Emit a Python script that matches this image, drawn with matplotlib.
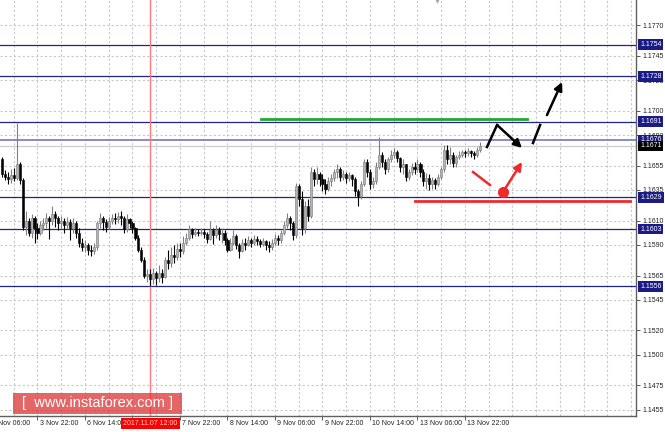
import numpy as np
import matplotlib
matplotlib.use("Agg")
import matplotlib.pyplot as plt
from matplotlib.patches import Rectangle

plt.rcParams['font.family'] = ['Liberation Sans', 'DejaVu Sans']

# ---- data: EURUSD H1 bars, index 0 = 3 Nov 06:00 ----
first_bar = 4
first_open = 1.1660
closes = [1.1648, 1.1646, 1.1644, 1.1647, 1.1645, 1.1656, 1.1643, 1.1605, 1.1610, 1.1600,
          1.1612, 1.1604, 1.1600, 1.1606, 1.1608, 1.1612, 1.1610, 1.1615, 1.1612, 1.1608,
          1.1610, 1.1606, 1.1609, 1.1604, 1.1608, 1.1600, 1.1592, 1.1588, 1.1590, 1.1586,
          1.1585, 1.1588, 1.1608, 1.1612, 1.1609, 1.1605, 1.1610, 1.1612, 1.1611, 1.1614,
          1.1612, 1.1603, 1.1611, 1.1608, 1.1604, 1.1596, 1.1586, 1.1578, 1.1565, 1.1566,
          1.1562, 1.1567, 1.1563, 1.1567, 1.1564, 1.1578, 1.1575, 1.1582, 1.1580, 1.1587,
          1.1585, 1.1592, 1.1596, 1.1603, 1.1599, 1.1601, 1.1600, 1.1601, 1.1599, 1.1595,
          1.1602, 1.1598, 1.1602, 1.1599, 1.1600, 1.1594, 1.1586, 1.1592, 1.1597, 1.1590,
          1.1585, 1.1592, 1.1590, 1.1594, 1.1592, 1.1595, 1.1593, 1.1591, 1.1593, 1.1590,
          1.1588, 1.1592, 1.1596, 1.1594, 1.1600, 1.1606, 1.1612, 1.1608, 1.1598, 1.1638,
          1.1628, 1.1604, 1.1622, 1.1614, 1.1650, 1.1644, 1.1648, 1.1644, 1.1640, 1.1636,
          1.1642, 1.1645, 1.1650, 1.1652, 1.1646, 1.1648, 1.1645, 1.1647, 1.1644, 1.1634,
          1.1630, 1.1640, 1.1658, 1.1650, 1.1640, 1.1642, 1.1654, 1.1664, 1.1658, 1.1652,
          1.1660, 1.1664, 1.1666, 1.1661, 1.1654, 1.1656, 1.1646, 1.1650, 1.1654, 1.1652,
          1.1656, 1.1650, 1.1642, 1.1645, 1.1640, 1.1643, 1.1640, 1.1646, 1.1652, 1.1668,
          1.1660, 1.1664, 1.1657, 1.1662, 1.1664, 1.1666, 1.1665, 1.1667, 1.1665, 1.1664,
          1.1668, 1.1671]
highs = [1.1662, 1.1651, 1.1650, 1.1652, 1.1653, 1.1690, 1.1658, 1.1645, 1.1618, 1.1612,
         1.1615, 1.1614, 1.1608, 1.1610, 1.1612, 1.1616, 1.1614, 1.1622, 1.1618, 1.1614,
         1.1614, 1.1612, 1.1613, 1.1611, 1.1612, 1.1610, 1.1604, 1.1596, 1.1594, 1.1592,
         1.1590, 1.1592, 1.1610, 1.1616, 1.1614, 1.1611, 1.1613, 1.1615, 1.1616, 1.1617,
         1.1618, 1.1614, 1.1615, 1.1612, 1.1610, 1.1605, 1.1598, 1.1588, 1.1580, 1.1570,
         1.1570, 1.1571, 1.1569, 1.1574, 1.1570, 1.1580, 1.1586, 1.1588, 1.1590, 1.1592,
         1.1592, 1.1597, 1.1600, 1.1606, 1.1604, 1.1604, 1.1603, 1.1604, 1.1603, 1.1601,
         1.1610, 1.1604, 1.1606, 1.1605, 1.1604, 1.1602, 1.1596, 1.1596, 1.1602, 1.1599,
         1.1592, 1.1595, 1.1596, 1.1597, 1.1596, 1.1598, 1.1597, 1.1595, 1.1596, 1.1594,
         1.1593, 1.1595, 1.1599, 1.1598, 1.1602, 1.1610, 1.1616, 1.1614, 1.1610, 1.1641,
         1.1640, 1.1634, 1.1626, 1.1628, 1.1654, 1.1652, 1.1654, 1.1650, 1.1648, 1.1644,
         1.1646, 1.1648, 1.1652, 1.1656, 1.1654, 1.1651, 1.1650, 1.1650, 1.1648, 1.1646,
         1.1636, 1.1642, 1.1660, 1.1660, 1.1652, 1.1646, 1.1658, 1.1678, 1.1666, 1.1660,
         1.1662, 1.1668, 1.1669, 1.1668, 1.1662, 1.1660, 1.1656, 1.1652, 1.1657, 1.1658,
         1.1660, 1.1658, 1.1652, 1.1649, 1.1648, 1.1646, 1.1645, 1.1648, 1.1654, 1.1672,
         1.1672, 1.1670, 1.1666, 1.1664, 1.1667, 1.1668, 1.1668, 1.1669, 1.1668, 1.1667,
         1.1670, 1.1674]
lows = [1.1646, 1.1643, 1.1640, 1.1641, 1.1642, 1.1643, 1.1640, 1.1602, 1.1598, 1.1597,
        1.1596, 1.1592, 1.1595, 1.1598, 1.1602, 1.1604, 1.1595, 1.1606, 1.1605, 1.1602,
        1.1604, 1.1600, 1.1603, 1.1594, 1.1600, 1.1596, 1.1588, 1.1585, 1.1584, 1.1582,
        1.1581, 1.1583, 1.1586, 1.1604, 1.1602, 1.1601, 1.1603, 1.1607, 1.1607, 1.1608,
        1.1606, 1.1600, 1.1601, 1.1604, 1.1600, 1.1594, 1.1584, 1.1576, 1.1563, 1.1560,
        1.1556, 1.1558, 1.1557, 1.1560, 1.1559, 1.1563, 1.1570, 1.1572, 1.1575, 1.1578,
        1.1580, 1.1583, 1.1590, 1.1594, 1.1596, 1.1597, 1.1597, 1.1598, 1.1596, 1.1592,
        1.1594, 1.1591, 1.1596, 1.1594, 1.1592, 1.1590, 1.1584, 1.1585, 1.1590, 1.1587,
        1.1579, 1.1584, 1.1586, 1.1589, 1.1588, 1.1590, 1.1590, 1.1588, 1.1589, 1.1586,
        1.1584, 1.1586, 1.1590, 1.1590, 1.1592, 1.1598, 1.1604, 1.1602, 1.1594, 1.1596,
        1.1622, 1.1598, 1.1600, 1.1610, 1.1612, 1.1638, 1.1640, 1.1638, 1.1634, 1.1632,
        1.1634, 1.1638, 1.1642, 1.1645, 1.1642, 1.1643, 1.1641, 1.1642, 1.1638, 1.1630,
        1.1622, 1.1628, 1.1638, 1.1646, 1.1636, 1.1637, 1.1640, 1.1652, 1.1654, 1.1648,
        1.1650, 1.1658, 1.1661, 1.1658, 1.1650, 1.1648, 1.1642, 1.1643, 1.1647, 1.1648,
        1.1650, 1.1646, 1.1638, 1.1636, 1.1635, 1.1636, 1.1636, 1.1638, 1.1644, 1.1650,
        1.1656, 1.1656, 1.1654, 1.1654, 1.1660, 1.1662, 1.1662, 1.1663, 1.1662, 1.1660,
        1.1662, 1.1666]

y_ticks = [1.1770, 1.1745, 1.1725, 1.1700, 1.1680, 1.1655, 1.1635, 1.1610,
           1.1590, 1.1565, 1.1545, 1.1520, 1.1500, 1.1475, 1.1455]
levels = [1.1754, 1.1728, 1.1691, 1.1603, 1.1556, 1.1629]
level_minor = 1.1676
current_price = 1.1671

x_label_bars = [0, 16, 32, 48, 64, 80, 96, 112, 128, 144, 160]
x_labels = ["3 Nov 06:00", "3 Nov 22:00", "6 Nov 14:00", "7 Nov 06:00", "7 Nov 22:00",
            "8 Nov 14:00", "9 Nov 06:00", "9 Nov 22:00", "10 Nov 14:00", "13 Nov 06:00",
            "13 Nov 22:00"]
cursor_bar = 54
cursor_label = "2017.11.07 12:00"

# analysis marks (bar index, price)
green_line = ([91.3, 180.9], [1.1693, 1.1693])
red_line = ([143.1, 215.6], [1.1626, 1.1626])
black_path = ([167.4, 170.8, 179.2], [1.16702, 1.16882, 1.16694])
black_dash1 = ([182.9, 185.3], [1.16734, 1.16882])
black_dash2 = ([187.6, 192.7], [1.16963, 1.17234])
red_stroke = ([162.7, 168.4], [1.16497, 1.16391])
red_dot = (172.8, 1.16333)
red_arrow_end = (179.2, 1.16579)
top_marker = (150.6, 1.17895)

# ---- figure ----
fig = plt.figure(figsize=(6.65, 4.32), dpi=100)
ax = fig.add_axes([0, 16 / 432, 636 / 665, 416 / 432])
ax.set_xlim(3.37, 217.6)
ax.set_ylim(1.14500, 1.17905)

closes = np.array(closes)
highs = np.array(highs)
lows = np.array(lows)
opens = np.concatenate([[first_open], closes[:-1]])
idx = np.arange(first_bar, first_bar + len(closes))
up = closes >= opens

# grid
ax.set_yticks(y_ticks)
ax.set_yticklabels(["%.4f" % v for v in y_ticks])
for b in range(0, 224, 8):
    ax.axvline(b, color='#c8c8c8', lw=0.8, ls=(0, (2, 2)), zorder=0)
for v in y_ticks:
    ax.axhline(v, color='#c8c8c8', lw=0.8, ls=(0, (2, 2)), zorder=0)

# levels
for lv in levels:
    ax.axhline(lv, color='#23238c', lw=0.9, zorder=1)
ax.axhline(level_minor, color='#7f7fd0', lw=1.3, zorder=1)
ax.axhline(current_price, color='#d0d0d0', lw=1.0, zorder=1)
ax.axvline(cursor_bar, color='#ff7a7a', lw=1.0, zorder=1)

# candles
ax.vlines(idx[up], lows[up], highs[up], color='#808080', lw=0.8, zorder=2)
ax.vlines(idx[~up], lows[~up], highs[~up], color='black', lw=0.8, zorder=2)
body = np.maximum(np.abs(closes - opens), 0.00004)
ax.bar(idx[up], body[up], bottom=np.minimum(opens, closes)[up], width=0.7,
       color='#b4b4b4', edgecolor='#7a7a7a', lw=0.4, zorder=3)
ax.bar(idx[~up], body[~up], bottom=np.minimum(opens, closes)[~up], width=0.7,
       color='black', edgecolor='black', lw=0.4, zorder=3)

# analysis marks
ax.plot(*green_line, color='#22a832', lw=2.0, zorder=4)
ax.plot(*red_line, color='#ee2a2a', lw=2.0, zorder=4)
ax.plot(black_path[0][:2], black_path[1][:2], color='black', lw=1.8, zorder=5)
ax.annotate('', xy=(black_path[0][2], black_path[1][2]),
            xytext=(black_path[0][1], black_path[1][1]),
            arrowprops=dict(arrowstyle='-|>', color='black', lw=1.8, mutation_scale=12,
                            shrinkA=0, shrinkB=0), zorder=5)
ax.plot(*black_dash1, color='black', lw=1.8, zorder=5)
ax.annotate('', xy=(black_dash2[0][1], black_dash2[1][1]),
            xytext=(black_dash2[0][0], black_dash2[1][0]),
            arrowprops=dict(arrowstyle='-|>', color='black', lw=1.8, mutation_scale=12,
                            shrinkA=0, shrinkB=0), zorder=5)
ax.plot(*red_stroke, color='#ee2a2a', lw=1.8, zorder=5)
ax.annotate('', xy=red_arrow_end, xytext=red_dot,
            arrowprops=dict(arrowstyle='-|>', color='#ee2a2a', lw=1.8, mutation_scale=12,
                            shrinkA=0, shrinkB=0), zorder=5)
ax.plot(*red_dot, 'o', color='#ee2a2a', ms=7, zorder=6)
ax.plot(*top_marker, 'v', color='#a8a8a8', ms=3.5, mew=0, zorder=4, clip_on=False)

# axes styling
for s in ['left', 'top']:
    ax.spines[s].set_visible(False)
for s in ['right', 'bottom']:
    ax.spines[s].set_color('#606060')
    ax.spines[s].set_linewidth(1.0)
ax.yaxis.tick_right()
ax.tick_params(axis='y', length=3, width=0.6, color='#404040', pad=2, labelsize=5,
               labelcolor='#222222')
ax.set_xticks([b for b in x_label_bars if b > 3.37])
ax.set_xticklabels([])
ax.tick_params(axis='x', length=3, width=0.6, color='#404040')
for b, lab in zip(x_label_bars, x_labels):
    ax.annotate(lab, xy=(b, 0), xycoords=('data', 'axes fraction'), xytext=(1.5, -3),
                textcoords='offset points', ha='left', va='top', fontsize=5,
                color='#222222', annotation_clip=False)

# level price boxes
for lv in levels + [level_minor]:
    ax.annotate("%.4f" % lv, xy=(1, lv), xycoords=('axes fraction', 'data'),
                xytext=(3, 0), textcoords='offset points', ha='left', va='center',
                fontsize=5, color='white', annotation_clip=False, zorder=7,
                bbox=dict(boxstyle='square,pad=0.25', fc='#1b1b86', ec='none'))
ax.annotate("%.4f" % current_price, xy=(1, current_price), xycoords=('axes fraction', 'data'),
            xytext=(3, 0), textcoords='offset points', ha='left', va='center',
            fontsize=5, color='white', annotation_clip=False, zorder=7,
            bbox=dict(boxstyle='square,pad=0.25', fc='black', ec='none'))

# cursor time box
ax.annotate(cursor_label, xy=(cursor_bar, 0), xycoords=('data', 'axes fraction'),
            xytext=(0, -3), textcoords='offset points', ha='center', va='top',
            fontsize=5, color='#ffd0d0', annotation_clip=False, zorder=8,
            bbox=dict(boxstyle='square,pad=0.3', fc='#ff0000', ec='none'))

# watermark
fig.add_artist(Rectangle((13 / 665, 18 / 432), 169 / 665, 21 / 432, transform=fig.transFigure,
                         facecolor='#dd3333', alpha=0.75, edgecolor='none', zorder=10))
fig.text(97 / 665, 28.5 / 432, "[  www.instaforex.com ]", color='white', fontsize=10.5,
         ha='center', va='center', zorder=11)

fig.savefig("out.png", dpi=100)
